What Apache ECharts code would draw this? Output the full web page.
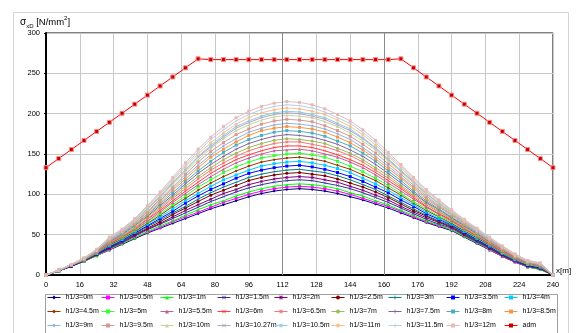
<!DOCTYPE html>
<html>
<head>
<meta charset="utf-8">
<script src="https://cdn.jsdelivr.net/npm/echarts@6/dist/echarts.min.js"></script>
<style>
html,body{margin:0;padding:0;background:#fff;}
#chart{width:577px;height:333px;}
</style>
</head>
<body>
<div id="chart"></div>
<script>
// Stations along the girder [m]
const xs = [0,6,12,18,24,30,36,42,48,54,60,66,72,78,84,90,96,102,108,114,120,126,132,138,144,150,156,162,168,174,180,186,192,198,204,210,216,222,228,234,240];

// Stress sigma_xD [N/mm2] for each wave height h1/3
const h0    = [0,5,11,17,24,31,38,45,52,58,64,70,76,82,87,92,97,101,104,106,107,106,104,101,97,93,88,83,77,71,65,60,55,47,39,31,23,16,10,7,0];
const h05   = [0,5,11,17,24,31,39,46,53,59,66,72,78,84,90,95,100,104,107,109,110,109,107,104,100,95,90,85,79,72,66,61,56,48,40,31,23,16,10,7,0];
const h1    = [0,5,11,17,24,32,39,46,54,61,67,74,81,87,92,98,103,107,110,112,113,112,110,107,102,98,92,87,80,74,67,62,56,48,40,32,24,17,10,7,0];
const h15   = [0,5,11,17,25,33,40,48,56,63,70,77,84,91,97,103,108,112,115,117,118,117,114,111,107,102,96,90,83,76,69,63,58,49,41,33,24,17,11,8,0];
const h2    = [0,5,11,18,25,33,41,49,57,64,72,80,87,94,101,106,112,116,119,121,122,121,118,115,110,105,99,93,85,78,71,65,59,50,42,33,25,17,11,8,0];
const h25   = [0,5,11,18,26,34,42,50,58,66,75,83,91,99,105,111,117,121,124,126,127,125,123,119,114,109,103,96,88,80,73,66,60,51,43,34,25,18,12,9,0];
const h3    = [0,5,11,18,26,35,42,51,60,68,77,85,94,102,109,115,121,125,128,130,131,129,127,123,118,112,106,98,90,82,74,67,61,52,43,35,26,18,12,9,0];
const h35   = [0,5,11,18,26,35,43,52,61,70,79,89,98,106,113,120,126,130,133,135,136,134,131,127,122,116,109,102,93,85,76,69,62,53,44,35,27,19,12,9,0];
const h4    = [0,5,12,18,27,36,44,53,63,72,82,92,101,110,118,124,130,135,138,140,141,139,136,132,127,120,113,105,96,87,78,70,63,54,45,36,27,19,13,10,0];
const h45   = [0,5,12,18,27,37,45,54,64,74,85,95,105,114,122,129,135,140,143,145,146,144,141,136,131,124,117,108,99,89,80,72,64,55,46,37,28,20,13,10,0];
const h5    = [0,5,12,19,27,38,46,55,66,76,87,98,109,118,127,134,140,145,148,150,151,149,146,141,135,128,120,111,101,91,82,73,66,56,47,38,28,20,13,10,0];
const h55   = [0,5,12,19,28,38,47,56,67,78,90,101,112,122,131,139,145,150,154,155,156,154,150,146,140,133,124,114,104,94,84,75,67,57,48,38,29,20,14,11,0];
const h6    = [0,6,12,19,28,39,47,57,69,80,92,104,115,126,135,143,149,154,158,160,160,158,154,149,143,136,127,117,107,96,85,76,68,58,48,39,29,21,14,11,0];
const h65   = [0,6,12,19,28,40,48,58,70,82,95,107,119,130,139,147,154,159,163,165,165,162,159,154,148,140,130,120,109,98,87,78,69,59,49,40,30,21,14,11,0];
const h7    = [0,6,12,19,29,40,49,59,72,84,97,110,122,133,143,151,158,163,167,169,168,166,163,157,151,143,133,123,111,100,89,79,70,60,50,40,31,22,15,12,0];
const h75   = [0,6,12,20,29,41,50,61,73,86,99,113,126,137,147,156,163,168,172,174,173,171,167,162,155,147,137,126,114,102,90,81,71,61,51,41,31,22,15,12,0];
const h8    = [0,6,12,20,29,42,51,62,75,88,102,116,129,141,152,161,168,173,177,179,178,176,172,166,160,151,141,129,117,104,92,82,72,62,52,42,32,23,15,12,0];
const h85   = [0,6,12,20,30,42,52,63,76,90,105,119,133,146,156,165,173,179,182,184,183,181,177,171,164,155,144,132,120,107,94,84,74,63,53,42,32,23,16,13,0];
const h9    = [0,6,13,20,30,43,52,64,78,92,107,122,136,149,160,169,177,182,186,188,187,185,181,175,168,158,147,135,122,109,96,85,75,64,53,43,33,24,16,13,0];
const h95   = [0,6,13,20,30,44,53,65,79,94,109,125,140,153,164,174,181,187,191,193,192,190,185,179,172,162,151,138,125,111,98,86,76,65,54,44,33,24,16,13,0];
const h10   = [0,6,13,20,31,45,54,66,81,96,112,128,143,157,169,179,186,192,196,198,197,195,190,184,176,166,155,141,128,113,100,88,77,66,55,45,34,24,17,14,0];
const h1027 = [0,6,13,21,31,45,55,67,82,97,114,130,146,159,171,182,189,195,199,201,200,197,193,186,179,169,157,143,129,115,101,89,78,66,56,45,34,25,17,14,0];
const h105  = [0,6,13,21,31,45,55,67,82,98,115,131,147,161,173,184,191,197,201,203,202,199,195,188,181,170,158,144,130,116,101,89,78,67,56,45,35,25,17,14,0];
const h11   = [0,6,13,21,31,46,56,68,84,100,117,134,150,164,176,187,195,201,205,207,206,203,199,192,184,174,161,147,133,117,103,91,79,67,57,46,35,25,17,14,0];
const h115  = [0,6,13,21,32,46,56,69,85,101,119,136,153,168,180,191,199,205,209,211,210,207,202,195,188,177,164,149,135,119,105,92,80,68,57,46,36,26,18,15,0];
const h12   = [0,6,13,21,32,47,57,70,86,103,121,139,156,171,184,195,203,209,213,215,214,211,206,199,191,180,167,152,137,121,106,93,81,69,58,47,36,26,18,15,0];

// Admissible stress
const adm   = [133,144.3,155.5,166.8,178,189.3,200.5,211.8,223,234.3,245.5,256.8,268,267,267,267,267,267,267,267,267,267,267,267,267,267,267,267,268,256.8,245.5,234.3,223,211.8,200.5,189.3,178,166.8,155.5,144.3,133];

const seriesNames = ['h1/3=0m','h1/3=0.5m','h1/3=1m','h1/3=1.5m','h1/3=2m','h1/3=2.5m','h1/3=3m','h1/3=3.5m','h1/3=4m',
  'h1/3=4.5m','h1/3=5m','h1/3=5.5m','h1/3=6m','h1/3=6.5m','h1/3=7m','h1/3=7.5m','h1/3=8m','h1/3=8.5m',
  'h1/3=9m','h1/3=9.5m','h1/3=10m','h1/3=10.27m','h1/3=10.5m','h1/3=11m','h1/3=11.5m','h1/3=12m','adm'];
const seriesValues = [h0,h05,h1,h15,h2,h25,h3,h35,h4,h45,h5,h55,h6,h65,h7,h75,h8,h85,h9,h95,h10,h1027,h105,h11,h115,h12,adm];

const xTicks = [0,16,32,48,64,80,96,112,128,144,160,176,192,208,224,240];
const yTicks = [0,50,100,150,200,250,300];
const pierLines = [112,160];

// Styling
const colors = ['#000080','#FF00FF','#00FF00','#333399','#800080','#800000','#008080','#0000FF','#00CCFF',
  '#993300','#33FF33','#C0609A','#FF3B3B','#F07878','#9BBB59','#8064A2','#4BACC6','#F79646',
  '#95B3D7','#D99694','#C3D69B','#B3A2C7','#93CDDD','#FAC090','#B9CDE5','#E6B9B8','#FF0000'];
const SYM_X = 'path://M0,1L1,0L5,4L9,0L10,1L6,5L10,9L9,10L5,6L1,10L0,9L4,5Z';
const SYM_PLUS = 'path://M4,0H6V4H10V6H6V10H4V6H0V4H4Z';
const SYM_DASH = 'path://M0,4H10V6H0Z';
const SYM_STAR = 'path://M4,0H6V4H10V6H6V10H4V6H0V4H4Z M0,1L1,0L5,4L9,0L10,1L6,5L10,9L9,10L5,6L1,10L0,9L4,5Z';
const markerCycle = ['diamond','rect','triangle',SYM_X,SYM_STAR,'circle',SYM_PLUS,SYM_DASH,SYM_DASH];
const FONT = '"Liberation Sans", Arial, sans-serif';

const series = seriesValues.map((vals, i) => {
  const isAdm = seriesNames[i] === 'adm';
  const s = {
    name: seriesNames[i],
    type: 'line',
    data: xs.map((x, k) => [x, vals[k]]),
    symbol: isAdm ? 'rect' : markerCycle[i % 9],
    symbolSize: isAdm ? 4 : 3,
    showSymbol: true,
    lineStyle: { color: colors[i], width: 1 },
    itemStyle: isAdm ? { color: '#C00000', borderColor: '#FF8A8A', borderWidth: 1 } : { color: colors[i] },
    emphasis: { disabled: true },
    animation: false,
    z: 2
  };
  if (i === 0) {
    s.markLine = {
      silent: true,
      symbol: ['none','none'],
      label: { show: false },
      lineStyle: { color: '#8a8a8a', width: 1, type: 'solid' },
      data: pierLines.map(v => ({ xAxis: v }))
    };
  }
  return s;
});

// Legend laid out as 9 columns x 3 rows
const colLeft = [47,101,160,217,274,331,388,446,504];
const legends = colLeft.map((left, c) => ({
  orient: 'vertical',
  left: left,
  top: 293,
  padding: 0,
  itemGap: 5,
  itemWidth: 13,
  itemHeight: 5,
  lineStyle: { width: 1 },
  itemStyle: { borderWidth: 0 },
  textStyle: { fontSize: 7, fontFamily: FONT, color: '#000', lineHeight: 9 },
  data: [seriesNames[c], seriesNames[c + 9], seriesNames[c + 18]],
  selectedMode: false
}));

const chart = echarts.init(document.getElementById('chart'), null, { renderer: 'canvas' });
chart.setOption({
  backgroundColor: '#fff',
  animation: false,
  color: colors,
  grid: { left: 46, right: 24, top: 33, bottom: 58, show: true, borderColor: '#000', borderWidth: 1, backgroundColor: 'transparent' },
  xAxis: {
    type: 'value', min: xTicks[0], max: xTicks[xTicks.length - 1], interval: xTicks[1] - xTicks[0],
    name: 'x[m]', nameLocation: 'end', nameGap: 3,
    nameTextStyle: { fontSize: 8, fontFamily: FONT, color: '#000', verticalAlign: 'bottom', padding: [0, 0, 0, 0] },
    axisLine: { show: true, onZero: false, lineStyle: { color: '#000', width: 2 } },
    axisTick: { show: false },
    axisLabel: { fontSize: 7.5, fontFamily: FONT, color: '#000', margin: 6 },
    splitLine: { show: true, lineStyle: { color: '#c8c8c8', width: 1 } }
  },
  yAxis: {
    type: 'value', min: yTicks[0], max: yTicks[yTicks.length - 1], interval: yTicks[1] - yTicks[0],
    axisLine: { show: true, lineStyle: { color: '#000', width: 2 } },
    axisTick: { show: true, length: 2, lineStyle: { color: '#000' } },
    axisLabel: { fontSize: 7.5, fontFamily: FONT, color: '#000', margin: 6 },
    splitLine: { show: true, lineStyle: { color: '#c8c8c8', width: 1 } }
  },
  legend: legends,
  graphic: [
    { type: 'rect', left: 11, top: 10, shape: { width: 555, height: 340 }, style: { fill: 'none', stroke: '#d4d4d4', lineWidth: 1 }, z: -1 },
    { type: 'rect', left: 43, top: 292, shape: { width: 512, height: 60 }, style: { fill: 'none', stroke: '#a0a0a0', lineWidth: 1 }, z: -1 },
    {
      type: 'text', left: 20, top: 15,
      style: {
        text: '{s|σ}{sub|xD}{t| [N/mm}{sup|2}{t|]}',
        fill: '#000',
        rich: {
          s: { fontSize: 10, fontFamily: FONT, lineHeight: 14, verticalAlign: 'middle' },
          sub: { fontSize: 6, fontFamily: FONT, lineHeight: 14, verticalAlign: 'bottom', padding: [6, 0, 0, 0] },
          t: { fontSize: 9.5, fontFamily: FONT, lineHeight: 14, verticalAlign: 'middle' },
          sup: { fontSize: 6, fontFamily: FONT, lineHeight: 14, verticalAlign: 'top' }
        }
      }
    }
  ],
  series: series
});
</script>
</body>
</html>
